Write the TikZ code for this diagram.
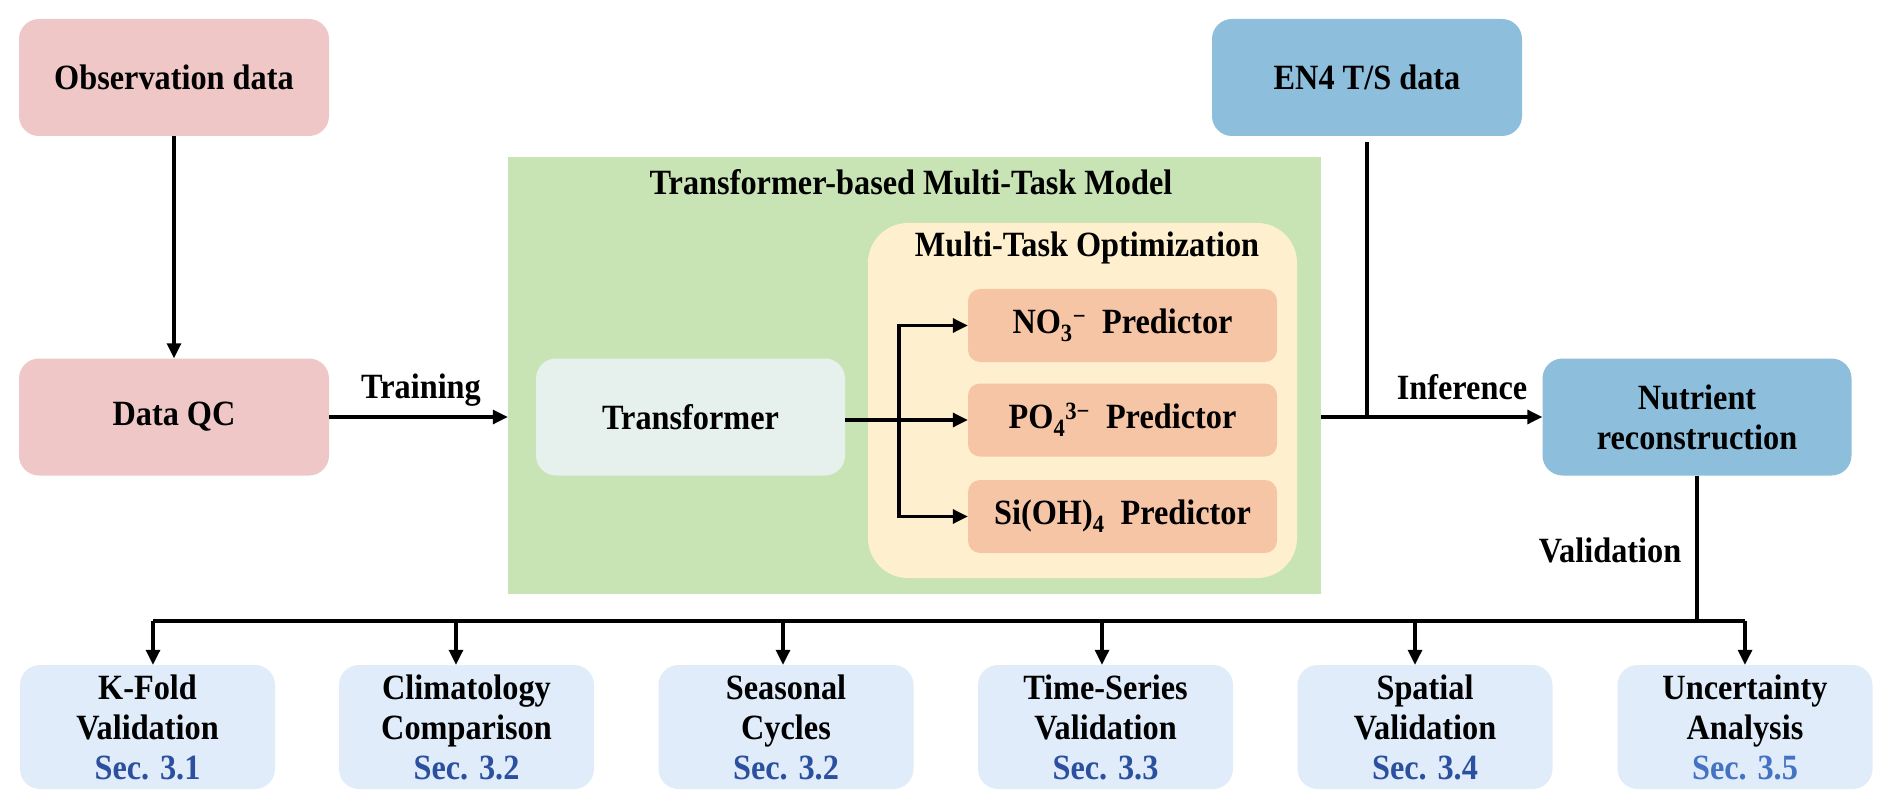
\documentclass[tikz,border=0pt]{standalone}
\usepackage{fontspec}
\setmainfont{Liberation Serif}[FakeStretch=0.91]
\usetikzlibrary{arrows.meta}
\definecolor{pinkbox}{RGB}{239,199,199}
\definecolor{bluebox}{RGB}{141,190,219}
\definecolor{greenbg}{RGB}{201,228,180}
\definecolor{trbg}{RGB}{230,240,236}
\definecolor{yellowbg}{RGB}{254,240,206}
\definecolor{predbg}{RGB}{246,197,165}
\definecolor{valbg}{RGB}{224,236,250}
\definecolor{secblue}{RGB}{44,80,160}
\definecolor{seclight}{RGB}{68,114,196}
\begin{document}
\begin{tikzpicture}[x=1pt,y=-1pt,
  txt/.style={font=\fontsize{35.5}{40}\selectfont\bfseries},
  box/.style={txt, rounded corners=20pt, inner sep=0pt, align=center},
  topbox/.style={box, minimum width=310pt, minimum height=117pt},
  predbox/.style={box, fill=predbg, rounded corners=12pt, minimum width=309pt, minimum height=73pt},
  valbox/.style={box, fill=valbg, minimum width=255pt, minimum height=124pt},
  lbl/.style={txt, inner sep=0pt},
  conn/.style={line width=3.2pt, -{Triangle[length=15pt,width=14pt]}},
  plain/.style={line width=3.2pt}
]
\useasboundingbox (0,0) rectangle (1892,810);

% containers
\node[fill=greenbg, minimum width=813pt, minimum height=437pt, inner sep=0pt] (green) at (914.5,375.5) {};
\node[lbl] (gtitle) at (911,182) {Transformer-based Multi-Task Model};
\node[fill=yellowbg, rounded corners=40pt, minimum width=429pt, minimum height=355pt, inner sep=0pt] (yel) at (1082.5,400.5) {};
\node[lbl] (ytitle) at (1087,248) {Multi-Task Optimization};

% main boxes
\node[topbox, fill=pinkbox] (obs) at (174,77.5) {Observation data};
\node[topbox, fill=pinkbox] (qc) at (174,417) {Data QC};
\node[topbox, fill=trbg, minimum width=309pt] (tr) at (690.5,417) {Transformer};
\node[topbox, fill=bluebox] (en4) at (1367,77.5) {EN4 T/S data};
\node[topbox, fill=bluebox, minimum width=309pt] (nut) at (1697,417) {Nutrient\\reconstruction};

% predictors
\node[predbox] (no3) at (1122.5,325.5) {NO\textsubscript{3}\textsuperscript{−}\hspace{0.45em}Predictor};
\node[predbox] (po4) at (1122.5,420) {PO\textsubscript{4}\textsuperscript{3−}\hspace{0.45em}Predictor};
\node[predbox] (si) at (1122.5,516.5) {Si(OH)\textsubscript{4}\hspace{0.45em}Predictor};

% validation boxes
\node[valbox] (b1) at (147.5,727) {K-Fold\\Validation\\\textcolor{secblue}{Sec. 3.1}};
\node[valbox] (b2) at (466.5,727) {Climatology\\Comparison\\\textcolor{secblue}{Sec. 3.2}};
\node[valbox] (b3) at (786,727) {Seasonal\\Cycles\\\textcolor{secblue}{Sec. 3.2}};
\node[valbox] (b4) at (1105.5,727) {Time-Series\\Validation\\\textcolor{secblue}{Sec. 3.3}};
\node[valbox] (b5) at (1425,727) {Spatial\\Validation\\\textcolor{secblue}{Sec. 3.4}};
\node[valbox] (b6) at (1745,727) {Uncertainty\\Analysis\\\textcolor{seclight}{Sec. 3.5}};

% labels
\node[lbl] (ltrain) at (421,390) {Training};
\node[lbl] (linf) at (1462,387) {Inference};
\node[lbl] (lval) at (1610,550) {Validation};

% connectors
\draw[conn] (obs) -- (qc);
\draw[conn] (qc.east) -- (green.west |- qc.east);
\draw[conn] (tr.east |- po4.west) -- (po4.west);
\coordinate (br) at (899,420);
\draw[conn] (br) |- (no3.west);
\draw[conn] (br) |- (si.west);
\draw[conn] (green.east |- nut.west) -- (nut.west);
\draw[plain] ([yshift=-6pt]en4.south) -- (en4.south |- nut.west);

\coordinate (busL) at (153,621);
\coordinate (busR) at (1745,621);
\draw[plain] (nut.south) -- (nut.south |- busL);
\draw[plain, line cap=square] (busL) -- (busR);
\draw[conn] (busL) -- ([xshift=5.5pt]b1.north);
\draw[conn] ([xshift=-10.5pt]b2.north |- busL) -- ([xshift=-10.5pt]b2.north);
\draw[conn] ([xshift=-3pt]b3.north |- busL) -- ([xshift=-3pt]b3.north);
\draw[conn] ([xshift=-3.5pt]b4.north |- busL) -- ([xshift=-3.5pt]b4.north);
\draw[conn] ([xshift=-10pt]b5.north |- busL) -- ([xshift=-10pt]b5.north);
\draw[conn] (busR) -- (b6.north);
\end{tikzpicture}
\end{document}
